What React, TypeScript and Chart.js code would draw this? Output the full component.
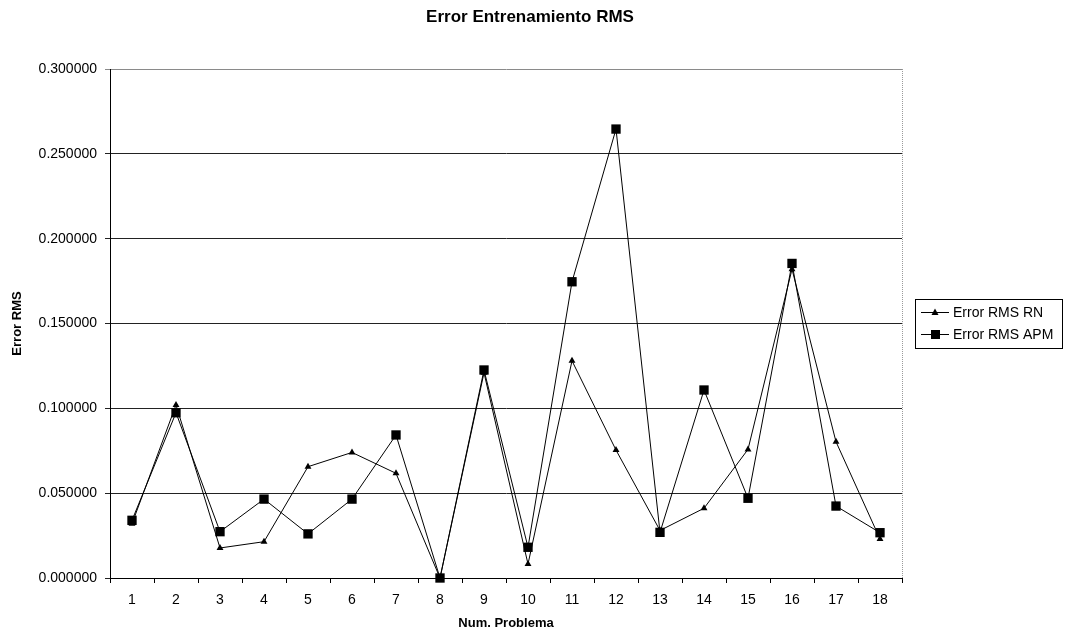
import React, { useEffect, useRef } from "react";
import { Chart, registerables } from "chart.js";

Chart.register(...registerables);

const categories = ["1","2","3","4","5","6","7","8","9","10","11","12","13","14","15","16","17","18"];
const errorRN = [0.032, 0.102, 0.0177, 0.0214, 0.0656, 0.074, 0.0617, 0.0, 0.121, 0.0082, 0.128, 0.0754, 0.028, 0.0411, 0.0758, 0.182, 0.0803, 0.023];
const errorAPM = [0.034, 0.0974, 0.0273, 0.0465, 0.026, 0.0465, 0.0843, 0.0, 0.1226, 0.0181, 0.1746, 0.2646, 0.0269, 0.1108, 0.047, 0.1854, 0.0424, 0.0267];
const seriesNames = ["Error RMS RN", "Error RMS APM"];
const chartTitle = "Error Entrenamiento RMS";
const xTitle = "Num. Problema";
const yTitle = "Error RMS";

const FONT = "'Liberation Sans', Arial, sans-serif";

const frameTitleLegend = {
  id: "frameTitleLegend",
  afterDraw(chart: any) {
    const { ctx, chartArea } = chart;
    ctx.save();
    // chart title, centred over the whole chart
    ctx.font = `bold 17px ${FONT}`;
    ctx.fillStyle = "#000";
    ctx.textAlign = "center";
    ctx.textBaseline = "middle";
    ctx.fillText(chartTitle, 530, 17);

    // right border of plot area (light dotted)
    ctx.strokeStyle = "#9a9a9a";
    ctx.lineWidth = 1;
    ctx.setLineDash([1, 1]);
    ctx.beginPath();
    ctx.moveTo(Math.round(chartArea.right) + 0.5, chartArea.top);
    ctx.lineTo(Math.round(chartArea.right) + 0.5, chartArea.bottom);
    ctx.stroke();
    ctx.setLineDash([]);

    // legend box
    const bx = 915, by = 299, bw = 147, bh = 49;
    ctx.strokeStyle = "#000";
    ctx.strokeRect(bx + 0.5, by + 0.5, bw, bh);
    const rows = [312, 334];
    ctx.font = `14px ${FONT}`;
    ctx.textAlign = "left";
    rows.forEach((ry, i) => {
      const ds = chart.data.datasets[i];
      ctx.strokeStyle = "#000";
      ctx.lineWidth = 1;
      ctx.beginPath();
      ctx.moveTo(921, ry + 0.5);
      ctx.lineTo(949, ry + 0.5);
      ctx.stroke();
      ctx.fillStyle = "#000";
      if (ds.pointStyle === "triangle") {
        ctx.beginPath();
        ctx.moveTo(935, ry - 3.5);
        ctx.lineTo(938.5, ry + 3);
        ctx.lineTo(931.5, ry + 3);
        ctx.closePath();
        ctx.fill();
      } else {
        ctx.fillRect(931, ry - 4, 9, 9);
      }
      ctx.fillText(seriesNames[i], 953, ry + 1);
    });
    ctx.restore();
  },
};

export default function App() {
  const ref = useRef<HTMLCanvasElement>(null);
  useEffect(() => {
    if (!ref.current) return;
    const chart = new Chart(ref.current, {
      type: "line",
      data: {
        labels: categories,
        datasets: [
          {
            label: seriesNames[0],
            data: errorRN,
            borderColor: "#000",
            backgroundColor: "#000",
            borderWidth: 1,
            pointStyle: "triangle",
            pointRadius: 4,
            pointBorderWidth: 0,
            tension: 0,
            clip: false,
          },
          {
            label: seriesNames[1],
            data: errorAPM,
            borderColor: "#000",
            backgroundColor: "#000",
            borderWidth: 1,
            pointStyle: "rect",
            pointRadius: 6.6,
            pointBorderWidth: 0,
            tension: 0,
            clip: false,
          },
        ],
      },
      options: {
        responsive: false,
        animation: false,
        layout: { padding: { left: 0, right: 165, top: 69, bottom: 0 } },
        plugins: {
          legend: { display: false },
          tooltip: { enabled: false },
          title: { display: false },
        },
        scales: {
          x: {
            type: "category",
            offset: true,
            afterFit: (s: any) => { s.height = 57; },
            grid: {
              display: true,
              drawOnChartArea: false,
              drawTicks: true,
              tickLength: 5,
              offset: true,
              color: "#000",
            },
            border: { display: true, color: "#000", width: 1 },
            ticks: {
              color: "#000",
              font: { family: FONT, size: 14 },
              padding: 9,
              maxRotation: 0,
            },
            title: {
              display: true,
              text: xTitle,
              color: "#000",
              font: { family: FONT, size: 13, weight: "bold" },
              padding: { top: 0, bottom: 4 },
            },
          },
          y: {
            min: 0,
            max: 0.3,
            afterFit: (s: any) => { s.width = 110; },
            grid: {
              color: (c: any) => (c.tick && c.tick.value >= 0.3 ? "#8a8a8a" : "#222"),
              lineWidth: 1,
              drawTicks: true,
              tickLength: 5,
            },
            border: { display: true, color: "#000", width: 1 },
            ticks: {
              stepSize: 0.05,
              color: "#000",
              font: { family: FONT, size: 14 },
              padding: 8,
              callback: (v: any) => Number(v).toFixed(6),
            },
            title: {
              display: true,
              text: yTitle,
              color: "#000",
              font: { family: FONT, size: 13, weight: "bold" },
              padding: { top: 10, bottom: 0 },
            },
          },
        },
      },
      plugins: [frameTitleLegend],
    });
    return () => chart.destroy();
  }, []);
  return (
    <div style={{ position: "fixed", left: 0, top: 0, width: 1067, height: 635, background: "#fff" }}>
      <canvas ref={ref} width={1067} height={635} style={{ display: "block" }} />
    </div>
  );
}
